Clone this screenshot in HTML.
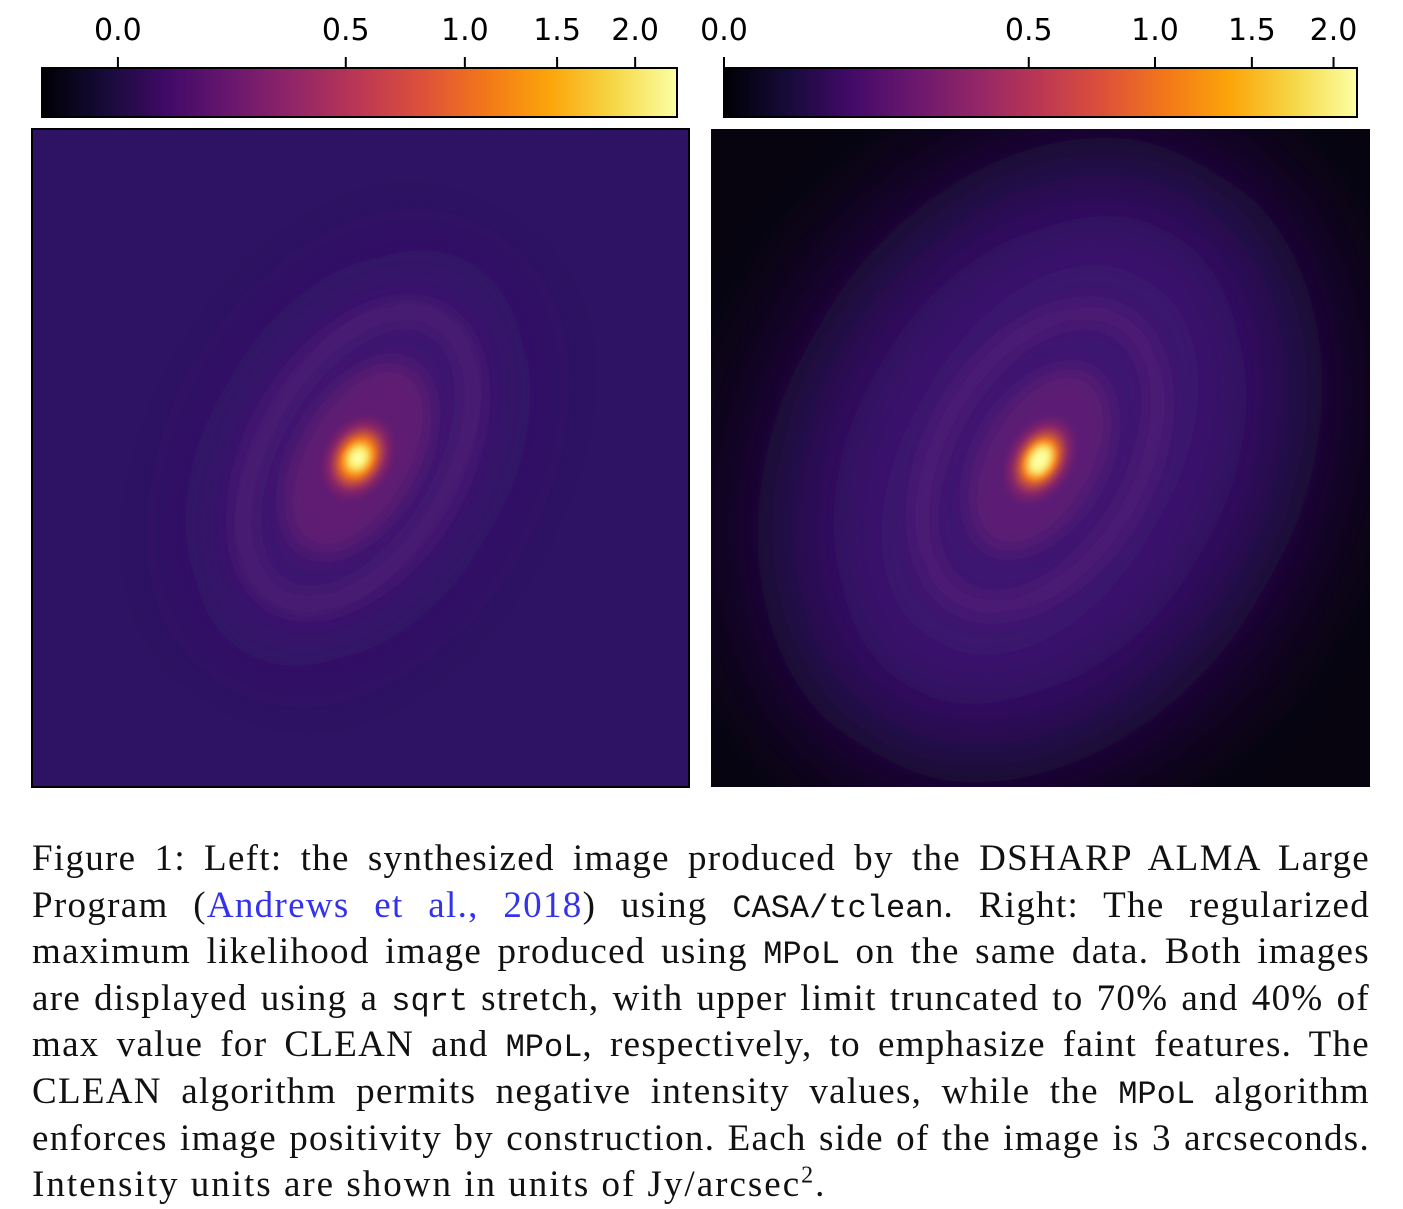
<!DOCTYPE html>
<html><head><meta charset="utf-8">
<style>
body{margin:0;background:#fff;width:1403px;height:1209px;overflow:hidden;position:relative}
svg{position:absolute;left:0;top:0}
#caption{position:absolute;left:32px;top:836px;width:1338px;font-family:"Liberation Serif",serif;font-size:37px;letter-spacing:1.3px;line-height:46.6px;color:#111}
#caption .ln{text-align:justify;text-align-last:justify;white-space:nowrap;height:46.6px}
#caption .ln.last{text-align-last:left;letter-spacing:2px}
.tt{font-family:"Liberation Mono",monospace;font-size:32px;letter-spacing:0px}
.cite{color:#3333ee}
</style></head><body>
<svg id="fig" width="1403" height="830">
<defs>
<linearGradient id="inferno" x1="0" x2="1" y1="0" y2="0">
<stop offset="0" stop-color="#000004"/><stop offset="0.1" stop-color="#160b39"/><stop offset="0.2" stop-color="#420a68"/><stop offset="0.3" stop-color="#6a176e"/><stop offset="0.4" stop-color="#932667"/><stop offset="0.5" stop-color="#bc3754"/><stop offset="0.6" stop-color="#dd513a"/><stop offset="0.7" stop-color="#f37819"/><stop offset="0.8" stop-color="#fca50a"/><stop offset="0.9" stop-color="#f6d746"/><stop offset="1" stop-color="#fcffa4"/>
</linearGradient>
<filter id="b40" x="-50%" y="-50%" width="200%" height="200%"><feGaussianBlur stdDeviation="40"/></filter>
<filter id="b12" x="-50%" y="-50%" width="200%" height="200%"><feGaussianBlur stdDeviation="10"/></filter>
<filter id="b6" x="-50%" y="-50%" width="200%" height="200%"><feGaussianBlur stdDeviation="5"/></filter>
<filter id="b80" x="-50%" y="-50%" width="200%" height="200%"><feGaussianBlur stdDeviation="60"/></filter>
<clipPath id="cl"><rect x="32" y="129" width="657" height="658"/></clipPath>
<clipPath id="cr"><rect x="711" y="129" width="659" height="658"/></clipPath>
<radialGradient id="coreL"><stop offset="0" stop-color="#fcffa4"/><stop offset="0.2" stop-color="#fbd03a"/><stop offset="0.4" stop-color="#f37819"/><stop offset="0.7" stop-color="#a52c60" stop-opacity="0.6"/><stop offset="1" stop-color="#6a176e" stop-opacity="0"/></radialGradient>
</defs>
<g clip-path="url(#cl)">
<rect x="32" y="129" width="657" height="658" fill="#2e1263"/>
<g transform="translate(358,458) rotate(30)">
<ellipse rx="125" ry="205" fill="#3e1470" filter="url(#b40)"/>
<ellipse rx="95" ry="160" fill="none" stroke="#4f1a74" stroke-width="18" filter="url(#b12)"/>
<ellipse rx="60" ry="105" fill="#5e1c72" filter="url(#b12)"/>
<ellipse rx="38" ry="50" fill="url(#coreL)"/>
<ellipse rx="8" ry="10" fill="#fcffa4" filter="url(#b6)"/>
</g>
</g>
<rect x="32" y="129" width="657" height="658" fill="none" stroke="#000" stroke-width="2"/>
<g clip-path="url(#cr)">
<rect x="711" y="129" width="659" height="658" fill="#07040f"/>
<g transform="translate(1040,460) rotate(30)">
<ellipse rx="260" ry="340" fill="#301063" filter="url(#b80)"/>
<ellipse rx="160" ry="240" fill="#3c1470" filter="url(#b40)"/>
<ellipse rx="100" ry="160" fill="none" stroke="#521a76" stroke-width="16" filter="url(#b12)"/>
<ellipse rx="60" ry="100" fill="#5c1c74" filter="url(#b12)"/>
<ellipse rx="36" ry="52" fill="url(#coreL)"/>
<ellipse rx="9" ry="15" fill="#fcffa4" filter="url(#b6)"/>
</g>
</g>
<g id="cbars"></g>
</svg>
<div id="caption">
<div class="ln">Figure 1: Left: the synthesized image produced by the DSHARP ALMA Large</div>
<div class="ln">Program (<span class="cite">Andrews et al., 2018</span>) using <span class="tt">CASA/tclean</span>. Right: The regularized</div>
<div class="ln">maximum likelihood image produced using <span class="tt">MPoL</span> on the same data. Both images</div>
<div class="ln">are displayed using a <span class="tt">sqrt</span> stretch, with upper limit truncated to 70% and 40% of</div>
<div class="ln">max value for CLEAN and <span class="tt">MPoL</span>, respectively, to emphasize faint features. The</div>
<div class="ln">CLEAN algorithm permits negative intensity values, while the <span class="tt">MPoL</span> algorithm</div>
<div class="ln">enforces image positivity by construction. Each side of the image is 3 arcseconds.</div>
<div class="ln last">Intensity units are shown in units of Jy/arcsec<sup style="font-size:24px;line-height:0">2</sup>.</div>
</div>
<script>
const tickValues = [0.0, 0.5, 1.0, 1.5, 2.0];
const tickLabels = ["0.0", "0.5", "1.0", "1.5", "2.0"];
const leftRange = [-0.0333, 2.297];
const rightRange = [0.0, 2.157];
const NS = "http://www.w3.org/2000/svg";
const g = document.getElementById('cbars');
function cbar(name, x0, w, range) {
  const grp = document.createElementNS(NS, 'g');
  
  
  const r = document.createElementNS(NS, 'rect');
  r.setAttribute('x', x0); r.setAttribute('y', 68); r.setAttribute('width', w); r.setAttribute('height', 49);
  r.setAttribute('fill', 'url(#inferno)'); r.setAttribute('stroke', '#000'); r.setAttribute('stroke-width', '2');
  
  
  grp.appendChild(r);
  const scale = v => x0 + w * Math.sqrt((v - range[0]) / (range[1] - range[0]));
  tickValues.forEach((v, i) => {
    const x = scale(v);
    const l = document.createElementNS(NS, 'line');
    l.setAttribute('x1', x); l.setAttribute('x2', x); l.setAttribute('y1', 57); l.setAttribute('y2', 68);
    l.setAttribute('stroke', '#000'); l.setAttribute('stroke-width', '2');
    
    
    grp.appendChild(l);
    const t = document.createElementNS(NS, 'text');
    t.setAttribute('x', x); t.setAttribute('y', 40); t.setAttribute('text-anchor', 'middle');
    t.setAttribute('font-family', '"DejaVu Sans", sans-serif'); t.setAttribute('font-size', '30');
    t.textContent = tickLabels[i];
    
    
    grp.appendChild(t);
  });
  g.appendChild(grp);
}
cbar('left-colorbar', 42, 635, leftRange);
cbar('right-colorbar', 724, 633, rightRange);
</script>
</body></html>
